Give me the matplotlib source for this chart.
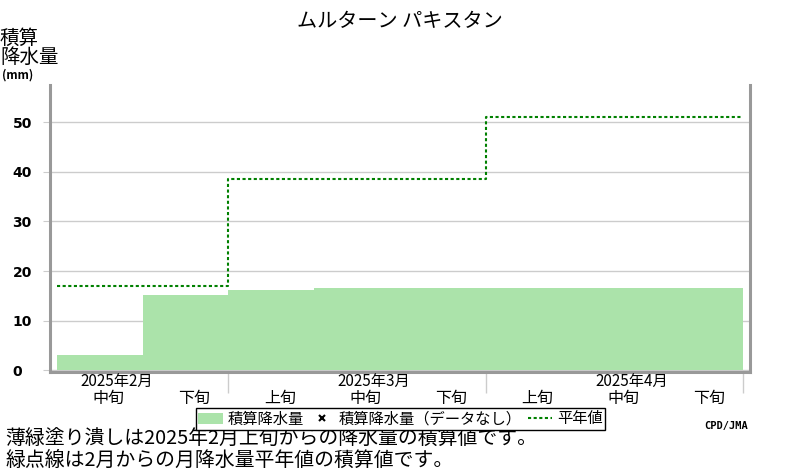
import numpy as np
import matplotlib
matplotlib.use('Agg')
from matplotlib import pyplot as plt
from matplotlib.patches import Patch
from matplotlib.lines import Line2D

plt.rcParams['font.family'] = ['Noto Sans CJK JP', 'DejaVu Sans']

#### DATA ####
dekad_labels = ['中旬', '下旬', '上旬', '中旬', '下旬', '上旬', '中旬', '下旬']
month_labels = ['2025年2月', '2025年3月', '2025年4月']
month_label_pos = [0, 3, 6]          # dekad index under which the month label sits
accum_precip = [3.1, 15.2, 16.2, 16.6, 16.6, 16.6, 16.6, 16.6]   # mm, per dekad
month_edges = [0, 2, 5, 8]           # dekad index where each month starts / ends
normal_accum = [17.0, 38.5, 51.1]    # mm, monthly normal (accumulated)
yticks = [0, 10, 20, 30, 40, 50]

fill_col = '#abe3aa'
line_col = '#008000'
frame_col = '#999999'
grid_col = '#cccccc'

fig = plt.figure(figsize=(8, 4.7), dpi=100)
ax = fig.add_axes([50/800, 1-372/470, 700/800, 287/470])

x = np.arange(len(accum_precip))
ax.bar(x, accum_precip, width=1.0, align='edge', color=fill_col, linewidth=0, zorder=2)

step_y = normal_accum + [normal_accum[-1]]
ax.step(month_edges, step_y, where='post', color=line_col, lw=1.5,
        linestyle=(0, (1.5, 1.2)), zorder=3)

ax.set_xlim(-0.08, 8.08)
ax.set_ylim(-0.35, 57.5)

ax.set_yticks(yticks)
ax.set_yticklabels([str(v) for v in yticks], fontsize=10, fontweight='bold',
                   family='DejaVu Sans', ha='left')
ax.tick_params(axis='y', length=5, color=grid_col, pad=22)
ax.set_xticks([])
ax.yaxis.grid(True, color=grid_col, lw=1, zorder=0)
ax.set_axisbelow(True)

for s in ['left', 'bottom', 'right']:
    ax.spines[s].set_color(frame_col)
    ax.spines[s].set_linewidth(2.2)
ax.spines['top'].set_visible(False)

# month boundary ticks below the axis
ax.vlines(month_edges[1:], -21/287, 0, transform=ax.get_xaxis_transform(),
          color=grid_col, lw=1, clip_on=False)

trans = ax.get_xaxis_transform()
for i, lab in enumerate(dekad_labels):
    ax.text(i + 0.6, -26/287, lab, transform=trans, ha='center', va='center',
            fontsize=11.5)
for i, lab in zip(month_label_pos, month_labels):
    ax.text(i + 0.7, -9/287, lab, transform=trans, ha='center', va='center',
            fontsize=11)

# titles and notes
fig.text(0.5, 1-22/470, 'ムルターン パキスタン', ha='center', va='center', fontsize=14.5)
fig.text(0, 1-38/470, '積算', ha='left', va='center', fontsize=14)
fig.text(0, 1-57/470, '降水量', ha='left', va='center', fontsize=14)
fig.text(2/800, 1-75/470, '(mm)', ha='left', va='center', fontsize=8.5, fontweight='bold')
fig.text(5/800, 1-439/470, '薄緑塗り潰しは2025年2月上旬からの降水量の積算値です。',
         ha='left', va='center', fontsize=14.3)
fig.text(5/800, 1-460/470, '緑点線は2月からの月降水量平年値の積算値です。',
         ha='left', va='center', fontsize=14.3)
fig.text(748/800, 1-426/470, 'CPD/JMA', ha='right', va='center', fontsize=7.5,
         fontweight='bold', family='DejaVu Sans Mono')

handles = [Patch(facecolor=fill_col, edgecolor='none'),
           Line2D([], [], color='black', marker='x', linestyle='none', markersize=5, mew=1.5),
           Line2D([], [], color=line_col, lw=1.5, linestyle=(0, (1.5, 1.2)))]
labels = ['積算降水量', '積算降水量（データなし）', '平年値']
leg = fig.legend(handles, labels, loc='center', bbox_to_anchor=(400.5/800, 1-419/470),
                 ncol=3, fontsize=11, frameon=True, fancybox=False, framealpha=1,
                 edgecolor='black', borderpad=0.15, handlelength=1.6, handletextpad=0.3,
                 columnspacing=0.4, borderaxespad=0)
leg.get_frame().set_linewidth(1)

plt.savefig('out.png', dpi=100)
